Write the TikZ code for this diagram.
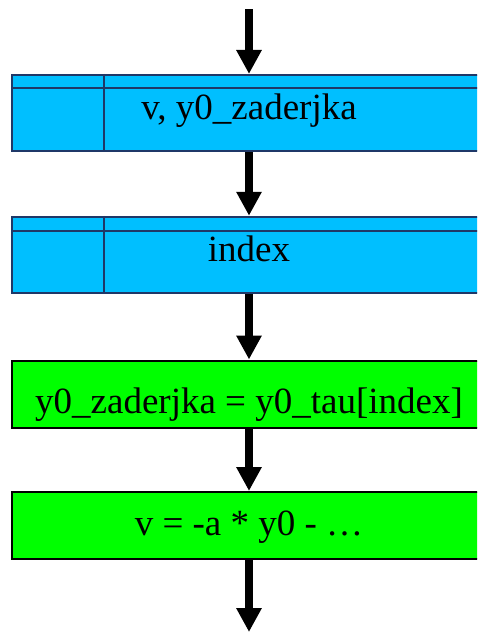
\documentclass[tikz,border=0pt]{standalone}
\usepackage{fontspec}
\setmainfont{Liberation Serif}
\usepackage{tikz}
\usetikzlibrary{arrows.meta,positioning}
\definecolor{varcyan}{HTML}{00BFFF}
\definecolor{varedge}{HTML}{1F3868}
\definecolor{opgreen}{HTML}{00FF00}

\begin{document}
\begin{tikzpicture}[x=1pt,y=-1pt,
  font=\fontsize{37}{44}\selectfont,
  flow/.style={line width=8pt,-{Triangle[width=24pt,length=24pt]}},
  varline/.style={draw=varedge,line width=2pt},
  varbox/.style={rectangle,varline,fill=varcyan,
    minimum width=474pt,minimum height=76.5pt,inner sep=0pt},
  opbox/.style={rectangle,draw=black,line width=2pt,fill=opgreen,
    minimum width=475pt,minimum height=67pt,inner sep=0pt},
  boxtext/.style={anchor=base,inner sep=0pt}]
  \path[use as bounding box] (0,0) rectangle (477,632);
  \clip (0,0) rectangle (477,632);
  \fill[white] (0,0) rectangle (477,632);
  % variable blocks
  \node[varbox] (vars) at (249,113.2) {};
  \draw[varline] ([yshift=-14.5pt]vars.north west) -- ([yshift=-14.5pt]vars.north east);
  \draw[varline] ([xshift=93pt]vars.north west) -- ([xshift=93pt]vars.south west);
  \node[boxtext] (varstext) at (249,119) {v, y0\_zaderjka};
  \node[varbox] (idx) at (249,255) {};
  \draw[varline] ([yshift=-15.5pt]idx.north west) -- ([yshift=-15.5pt]idx.north east);
  \draw[varline] ([xshift=93pt]idx.north west) -- ([xshift=93pt]idx.south west);
  \node[boxtext] (idxtext) at (249,261) {index};
  % operations
  \node[opbox] (delay) at (249,394) {};
  \node[boxtext] (delaytext) at (249,413) {y0\_zaderjka = y0\_tau[index]};
  \node[opbox] (deriv) at (249,525.5) {};
  \node[boxtext] (derivtext) at (249,535) {v = -a * y0 - …};
  % arrows
  \coordinate (in) at (249,9);
  \coordinate (out) at (249,632);
  \draw[flow] (in) -- (vars.north);
  \draw[flow] (vars.south) -- (idx.north);
  \draw[flow] (idx.south) -- (delay.north);
  \draw[flow] (delay.south) -- (deriv.north);
  \draw[flow] (deriv.south) -- (out);
\end{tikzpicture}
\end{document}
